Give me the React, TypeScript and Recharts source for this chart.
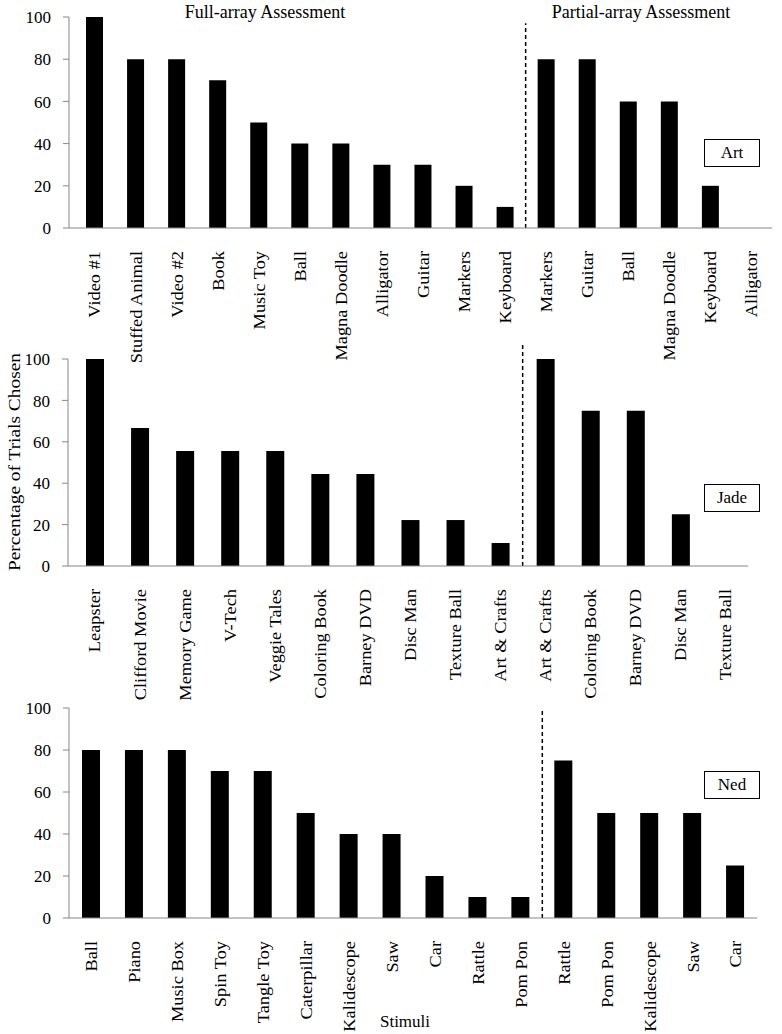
import { Bar, BarChart, ReferenceLine, XAxis, YAxis } from "recharts";

const artItems = [
  "Video #1", "Stuffed Animal", "Video #2", "Book", "Music Toy", "Ball", "Magna Doodle",
  "Alligator", "Guitar", "Markers", "Keyboard",
  "Markers", "Guitar", "Ball", "Magna Doodle", "Keyboard", "Alligator",
];
const artValues = [100, 80, 80, 70, 50, 40, 40, 30, 30, 20, 10, 80, 80, 60, 60, 20, 0];

const jadeItems = [
  "Leapster", "Clifford Movie", "Memory Game", "V-Tech", "Veggie Tales", "Coloring Book",
  "Barney DVD", "Disc Man", "Texture Ball", "Art & Crafts",
  "Art & Crafts", "Coloring Book", "Barney DVD", "Disc Man", "Texture Ball",
];
const jadeValues = [100, 66.7, 55.6, 55.6, 55.6, 44.4, 44.4, 22.2, 22.2, 11.1, 100, 75, 75, 25, 0];

const nedItems = [
  "Ball", "Piano", "Music Box", "Spin Toy", "Tangle Toy", "Caterpillar", "Kalidescope",
  "Saw", "Car", "Rattle", "Pom Pon",
  "Rattle", "Pom Pon", "Kalidescope", "Saw", "Car",
];
const nedValues = [80, 80, 80, 70, 70, 50, 40, 40, 20, 10, 10, 75, 50, 50, 50, 25];

const yTicks = [0, 20, 40, 60, 80, 100];

const serif = "'Liberation Serif', 'Times New Roman', serif";
const grey = "#868686";

// category names run bottom-to-top, slightly stretched like the original scan
function CatTick({ x, y, payload, names }: any) {
  return (
    <text
      transform={`translate(${x}, ${y + 15}) rotate(-90) scale(1.08, 1)`}
      dy="0.35em"
      textAnchor="end"
      style={{ fontFamily: serif, fontSize: 17 }}
      fill="#000"
    >
      {names[payload.value]}
    </text>
  );
}

function NumTick({ x, y, payload }: any) {
  return (
    <text
      x={x}
      y={y}
      dy="0.36em"
      textAnchor="end"
      style={{ fontFamily: serif, fontSize: 17 }}
      fill="#000"
    >
      {payload.value}
    </text>
  );
}

function Panel({
  names, values, split, top, height, mTop, mRight, axisW, padLeft, xHeight, barSize, lineTop,
}: {
  names: string[]; values: number[]; split: number; top: number; height: number; mTop: number;
  mRight: number; axisW: number; padLeft: number; xHeight: number; barSize: number; lineTop: number;
}) {
  const data = names.map((n, i) => ({ i, name: n, v: values[i] }));
  return (
    <div style={{ position: "absolute", left: 0, top }}>
      <BarChart
        width={782}
        height={height}
        data={data}
        margin={{ top: mTop, right: mRight, left: 0, bottom: 0 }}
        style={{ fontFamily: serif }}
      >
        <XAxis
          dataKey="i"
          type="number"
          domain={[-0.5, names.length - 0.5]}
          ticks={names.map((_, i) => i)}
          interval={0}
          padding={{ left: padLeft, right: 0 }}
          height={xHeight}
          stroke={grey}
          tickLine={false}
          tick={<CatTick names={names} />}
        />
        <YAxis
          domain={[0, 100]}
          ticks={yTicks}
          width={axisW}
          stroke={grey}
          tickSize={6}
          tickMargin={12}
          tick={<NumTick />}
        />
        <ReferenceLine
          segment={[{ x: split - 0.5, y: 0 }, { x: split - 0.5, y: lineTop }]}
          stroke="#000"
          strokeWidth={1.5}
          strokeDasharray="4 3"
          ifOverflow="visible"
        />
        <Bar dataKey="v" fill="#000" barSize={barSize} isAnimationActive={false} />
      </BarChart>
    </div>
  );
}

const boxStyle = (top: number): React.CSSProperties => ({
  position: "absolute",
  left: 704,
  top,
  width: 54,
  height: 26,
  border: "1px solid #000",
  background: "#fff",
  fontFamily: serif,
  fontSize: 17,
  lineHeight: "26px",
  textAlign: "center",
});

export default function App() {
  return (
    <div style={{ position: "absolute", left: 0, top: 0, width: 782, height: 1034, background: "#fff", fontFamily: serif }}>
      <Panel names={artItems} values={artValues} split={11} top={0} height={370} mTop={17} mRight={10}
        axisW={69} padLeft={5} xHeight={142} barSize={17} lineTop={97} />
      <Panel names={jadeItems} values={jadeValues} split={10} top={340} height={360} mTop={19} mRight={34}
        axisW={68} padLeft={4} xHeight={134} barSize={18} lineTop={108} />
      <Panel names={nedItems} values={nedValues} split={11} top={690} height={344} mTop={18} mRight={25}
        axisW={69} padLeft={1} xHeight={116} barSize={18} lineTop={99} />

      <div style={{ position: "absolute", left: 155, top: 2, width: 220, textAlign: "center", fontSize: 18 }}>
        Full-array Assessment
      </div>
      <div style={{ position: "absolute", left: 521, top: 2, width: 240, textAlign: "center", fontSize: 18 }}>
        Partial-array Assessment
      </div>

      <div style={boxStyle(139)}>Art</div>
      <div style={boxStyle(484)}>Jade</div>
      <div style={boxStyle(771)}>Ned</div>

      <div
        style={{
          position: "absolute", left: 15, top: 462, width: 260, marginLeft: -130, textAlign: "center",
          transform: "rotate(-90deg) scale(1.14, 1)", fontSize: 17, lineHeight: "20px", marginTop: -10,
        }}
      >
        Percentage of Trials Chosen
      </div>
      <div style={{ position: "absolute", left: 355, top: 1012, width: 100, textAlign: "center", fontSize: 17 }}>
        Stimuli
      </div>
    </div>
  );
}
